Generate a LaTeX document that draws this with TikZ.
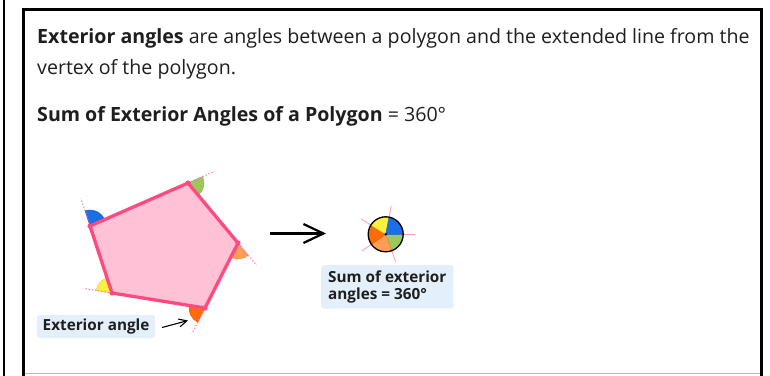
\documentclass[tikz,border=0pt]{standalone}
\usepackage{fontspec}
\setmainfont{Open Sans}
\usetikzlibrary{arrows.meta,calc}
\definecolor{polyfill}{HTML}{FFC1D5}
\definecolor{polyedge}{HTML}{FF4A80}
\definecolor{extpink}{HTML}{FF7FA6}
\definecolor{angblue}{HTML}{1A6FE6}
\definecolor{anggreen}{HTML}{9CC65E}
\definecolor{anglorange}{HTML}{FF9E55}
\definecolor{angdorange}{HTML}{FF6A0A}
\definecolor{angyellow}{HTML}{FFF03C}
\definecolor{labelbg}{HTML}{E3F0FC}
\definecolor{txt}{HTML}{1E1E1E}
\tikzset{
  bodytext/.style={anchor=base west, inner sep=0pt, text=txt, font=\fontsize{19.6}{23}\selectfont},
  labelbox/.style={fill=labelbg, rounded corners=2.5pt, text=txt, font=\fontsize{15.3}{17.7}\selectfont\bfseries, align=left},
  extline/.style={extpink, line width=1.2pt, dash pattern=on 1.2pt off 2pt},
  radline/.style={extpink!80, line width=0.8pt},
  sector/.style={fill=#1, draw=#1!85!black, line width=0.4pt},
  polyside/.style={draw=polyedge, line width=3.3pt, fill=polyfill, line join=round},
}
\newcommand\extsector[4]{%
  \path[sector=#4] (#1) -- ++(#2:16) arc[start angle=#2, end angle=#3, radius=16] -- cycle;
  \draw[extline] (#1) -- ++(#2:29);}
\newcommand\circsector[3]{%
  \path[sector=#3] (C) -- ++(#1:17.5) arc[start angle=#1, end angle=#2, radius=17.5] -- cycle;}
\begin{document}
\begin{tikzpicture}[x=1pt, y=-1pt]
\useasboundingbox (0,0) rectangle (770,375);
\fill[white] (0,0) rectangle (770,375);
% frame
\draw[line width=2pt] (3.7,-5) -- (3.7,380);
\draw[gray!55, line width=1pt] (23.7,373.7) -- (761.3,373.7);
\draw[line width=2.7pt] (23.7,380) -- (23.7,9.7) -- (761.3,9.7) -- (761.3,380);
% texts
\node[bodytext] (t1) at (37,43.3) {\textbf{Exterior angles} are angles between a polygon and the extended line from the};
\node[bodytext] (t2) at (37,74.3) {vertex of the polygon.};
\node[bodytext] (t3) at (37,121.7) {\textbf{Sum of Exterior Angles of a Polygon} = 360°};
% polygon vertices
\coordinate (V1) at (188,183);
\coordinate (V2) at (238,243);
\coordinate (V3) at (205,308);
\coordinate (V4) at (112,293);
\coordinate (V5) at (90,226);
% exterior angles
\extsector{V1}{-23.7}{50.2}{anggreen}
\extsector{V2}{50.2}{116.9}{anglorange}
\extsector{V3}{116.9}{189.2}{angdorange}
\extsector{V4}{189.2}{251.8}{angyellow}
\extsector{V5}{251.8}{336.3}{angblue}
% polygon
\path[polyside] (V1) -- (V2) -- (V3) -- (V4) -- (V5) -- cycle;
\foreach \v in {V1,V2,V3,V4,V5} \fill[polyedge] (\v) circle[radius=2.6];
% big arrow
\coordinate (a1) at (270,233.5);
\coordinate (a2) at (326,233.5);
\draw[line width=2.2pt, -{Straight Barb[length=20pt,width=19pt]}] (a1) -- (a2);
% circle of angles
\coordinate (C) at (385.7,234.3);
\foreach \a in {0,70,145,212,281} \draw[radline] ($(C)+(\a:17.5)$) -- ($(C)+(\a:29)$);
\circsector{0}{70}{anggreen}
\circsector{70}{145}{anglorange}
\circsector{145}{212}{angdorange}
\circsector{212}{281}{angyellow}
\circsector{281}{360}{angblue}
\draw[line width=1.3pt] (C) circle[radius=17.5];
\fill (C) circle[radius=1.4];
% labels
\node[labelbox, anchor=north west, minimum height=43.3pt, inner xsep=7pt] (sum) at (321,265) {Sum of exterior\\angles = 360°};
\node[labelbox, anchor=west, minimum height=23pt, inner xsep=5.5pt] (lab) at (37,326.5) {Exterior angle};
\coordinate (s1) at (162,327.5);
\coordinate (s2) at (188,320.5);
\draw[line width=1.1pt, -{Straight Barb[length=8pt,width=8pt]}] (s1) -- (s2);
\end{tikzpicture}
\end{document}
